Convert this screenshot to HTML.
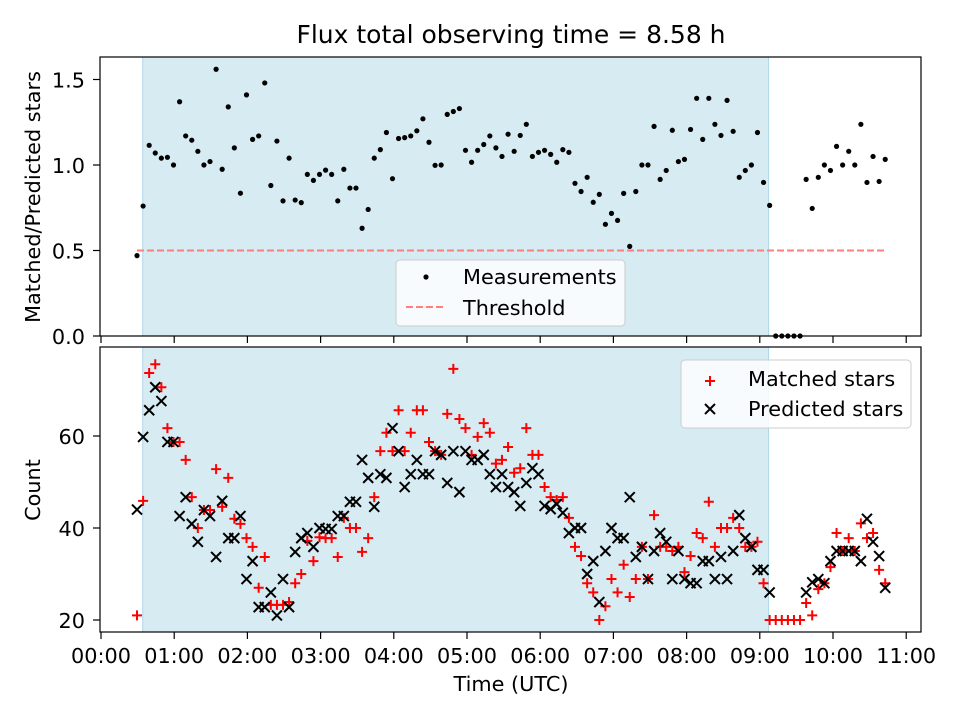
<!DOCTYPE html>
<html><head><meta charset="utf-8">
<style>
html,body{margin:0;padding:0;background:#fff;}
svg{display:block;font-family:"DejaVu Sans","Liberation Sans",sans-serif;}
</style></head>
<body>
<svg id="chart" width="960" height="720" viewBox="0 0 960 720" xmlns="http://www.w3.org/2000/svg">
<rect width="960" height="720" fill="#fff"/>
<text x="511" y="43" text-anchor="middle" font-size="25" fill="#000">Flux total observing time = 8.58 h</text>
<g id="topPanel"></g>
<g id="botPanel"></g>
<text x="511" y="691" text-anchor="middle" font-size="20.8">Time (UTC)</text>
<text transform="translate(40,197) rotate(-90)" text-anchor="middle" font-size="20.8">Matched/Predicted stars</text>
<text transform="translate(40,490) rotate(-90)" text-anchor="middle" font-size="20.8">Count</text>
</svg>
<script>
const T0 = 0.492, STEP = 0.0831;
const ratio = [0.47,0.76,1.115,1.07,1.04,1.045,1.00,1.37,1.17,1.145,1.08,1.00,1.02,1.56,0.975,1.34,1.10,0.835,1.41,1.15,1.17,1.48,0.88,1.14,0.79,1.04,0.795,0.78,0.945,0.91,0.945,0.97,0.945,0.79,0.975,0.865,0.865,0.63,0.74,1.04,
1.09,1.19,0.92,1.155,1.16,1.17,1.20,1.27,1.133,0.998,1.00,1.296,1.313,1.33,1.086,1.016,1.086,1.12,1.17,1.10,1.05,1.18,1.08,1.173,1.238,1.05,1.074,1.086,1.062,1.016,1.09,1.074,0.893,0.845,0.928,0.782,0.828,0.653,0.717,0.676,0.834,0.524,0.845,
1.0,1.0,1.226,0.916,0.968,1.203,1.02,1.033,1.208,1.39,1.15,1.39,1.238,1.173,1.378,1.197,0.928,0.968,1.0,1.19,0.898,0.764,
0,0,0,0,0,
0.916,0.746,0.928,1.0,0.968,1.109,1.0,1.08,1.0,1.238,0.898,1.05,0.904,1.033];
const matched = [21,45.9,73.7,75.6,70.6,61.7,58.7,58.7,54.8,46.7,40,43.9,43.9,52.8,44.6,50.9,42,40.9,37.8,35.9,27,33.7,23.3,23.3,23.3,23.9,28,30,37.2,32.8,
38,37.8,37.8,33.7,42.2,40,40,34.8,37.8,46.7,56.7,60.7,56.7,65.6,56.7,60.7,65.6,65.6,58.7,56.7,55.9,64.8,74.6,63.7,61.7,55.9,59.8,62.8,60.7,54,
54.8,57.6,52,53,61.7,55.9,55.9,48.9,46.7,46.1,46.7,42.2,35.9,33.9,28,26,20,23,28.9,26,32,25,28.9,35.9,28.9,42.8,35.9,35.9,35,35.9,
30.4,33.9,38.9,37.8,45.7,35.9,40,40,42.2,40,35.9,35.9,37,28,20,20,20,20,20,20,23.7,21,26.7,28,31.5,38.9,35,37.8,35,41,37.8,38.9,30.9,28];
const predicted = [44,59.8,65.6,70.6,67.6,58.7,58.7,42.6,46.7,40.9,37,43.9,42.6,33.7,45.9,37.8,37.8,42.6,28.9,32.8,22.8,22.8,26,21,28.9,22.8,34.8,37.8,38.9,35.9,
40,39.8,39.8,42.6,42.6,45.7,45.7,54.8,50.9,44.6,51.7,50.9,61.7,56.7,48.9,51.7,54.8,51.7,51.7,56.7,55.9,49.8,56.7,47.8,56.7,54.8,54.8,55.9,51.7,48.9,
51.7,48.9,47.8,44.8,49.8,53,51.7,44.8,44.1,45.2,43.3,38.9,40,40,30,32.8,23.9,35,40,37.8,37.8,46.7,33.7,35.9,28.9,35,38.9,37,28.9,35,
28.9,28,28,32.8,32.8,28.9,33.7,28.9,35,42.8,37.8,35.9,30.9,30.9,26,null,null,null,null,null,26,28.2,28.9,28,32.8,35,35,35,35,32.8,42,37,33.9,27];
const xTickLabels = ["00:00","01:00","02:00","03:00","04:00","05:00","06:00","07:00","08:00","09:00","10:00","11:00"];
const topTicks = [0.0,0.5,1.0,1.5];
const botTicks = [20,40,60];
const threshold = 0.5;
const shadeStart = 0.57, shadeEnd = 9.12;

const NS = "http://www.w3.org/2000/svg";
const X0 = 100, X1 = 921;
const FS = 20.8;
const xs = h => 101 + h * 73.2;
const ysTop = v => 336 - v * 171;
const ysBot = v => 620 - (v - 20) * 4.6;
function mk(parent, tag, attrs) {
  const e = document.createElementNS(NS, tag);
  for (const k in attrs) e.setAttribute(k, attrs[k]);
  parent.appendChild(e);
  return e;
}
function panel(g, yTop, yBot, ticks, ysF, fmt, showLabels, prefix) {
  const sh = mk(g, "rect", {x: xs(shadeStart), y: yTop, width: xs(shadeEnd) - xs(shadeStart), height: yBot - yTop, fill: "#add8e6", "fill-opacity": 0.5, stroke: "#add8e6", "stroke-width": 1});
  
  
  ticks.forEach(t => {
    const y = ysF(t);
    const tk = mk(g, "line", {x1: X0 - 7, x2: X0, y1: y, y2: y, stroke: "#000", "stroke-width": 1.2});
    
    
    const lb = mk(g, "text", {x: X0 - 15, y: y + 8, "text-anchor": "end", "font-size": FS});
    
    
    lb.textContent = fmt(t);
  });
  xTickLabels.forEach((l, i) => {
    const x = xs(i);
    const tk = mk(g, "line", {x1: x, x2: x, y1: yBot, y2: yBot + 7, stroke: "#000", "stroke-width": 1.2});
    
    
    if (showLabels) {
      const lb = mk(g, "text", {x: x, y: yBot + 31, "text-anchor": "middle", "font-size": FS});
      
      
      lb.textContent = l;
    }
  });
}
const topG = document.getElementById("topPanel");
const botG = document.getElementById("botPanel");
panel(topG, 57, 336, topTicks, ysTop, t => t.toFixed(1), false, "top");
panel(botG, 347, 632, botTicks, ysBot, t => String(t), true, "bottom");

const n = ratio.length;
const thr = mk(topG, "line", {x1: xs(T0), x2: xs(T0 + STEP * (n - 1)), y1: ysTop(threshold), y2: ysTop(threshold), stroke: "#ff7f7f", "stroke-width": 2, "stroke-dasharray": "7,3"});


ratio.forEach((v, i) => {
  const c = mk(topG, "circle", {cx: xs(T0 + STEP * i), cy: ysTop(v), r: 2.6, fill: "#000"});
  
  
});
matched.forEach((v, i) => {
  if (v == null) return;
  const x = xs(T0 + STEP * i), y = ysBot(v);
  const p = mk(botG, "path", {d: `M${x-5},${y}H${x+5}M${x},${y-5}V${y+5}`, stroke: "#f00", "stroke-width": 2, fill: "none"});
  
  
});
predicted.forEach((v, i) => {
  if (v == null) return;
  const x = xs(T0 + STEP * i), y = ysBot(v);
  const p = mk(botG, "path", {d: `M${x-5},${y-5}L${x+5},${y+5}M${x-5},${y+5}L${x+5},${y-5}`, stroke: "#000", "stroke-width": 2, fill: "none"});
  
  
});
[[topG, 57, 336], [botG, 347, 632]].forEach(([g, a, b], k) => {
  const f = mk(g, "rect", {x: X0, y: a, width: X1 - X0, height: b - a, fill: "none", stroke: "#000", "stroke-width": 1.2});
  
  
});
const lg1 = mk(topG, "g", {});


mk(lg1, "rect", {x: 396, y: 260, width: 229, height: 66, rx: 4, fill: "#fff", "fill-opacity": 0.8, stroke: "#ccc"});
mk(lg1, "circle", {cx: 426, cy: 277, r: 2.6, fill: "#000"});
mk(lg1, "line", {x1: 406, x2: 446, y1: 307, y2: 307, stroke: "#ff7f7f", "stroke-width": 2, "stroke-dasharray": "7,3"});
const t1 = mk(lg1, "text", {x: 463, y: 284, "font-size": FS}); t1.textContent = "Measurements";


const t2 = mk(lg1, "text", {x: 463, y: 315, "font-size": FS}); t2.textContent = "Threshold";



const lg2 = mk(botG, "g", {});


mk(lg2, "rect", {x: 681, y: 360, width: 230, height: 68, rx: 4, fill: "#fff", "fill-opacity": 0.8, stroke: "#ccc"});
mk(lg2, "path", {d: "M705,381H715M710,376V386", stroke: "#f00", "stroke-width": 2});
mk(lg2, "path", {d: "M705,404L715,414M705,414L715,404", stroke: "#000", "stroke-width": 2});
const t3 = mk(lg2, "text", {x: 748, y: 386, "font-size": FS}); t3.textContent = "Matched stars";


const t4 = mk(lg2, "text", {x: 748, y: 416, "font-size": FS}); t4.textContent = "Predicted stars";


</script>
</body></html>
